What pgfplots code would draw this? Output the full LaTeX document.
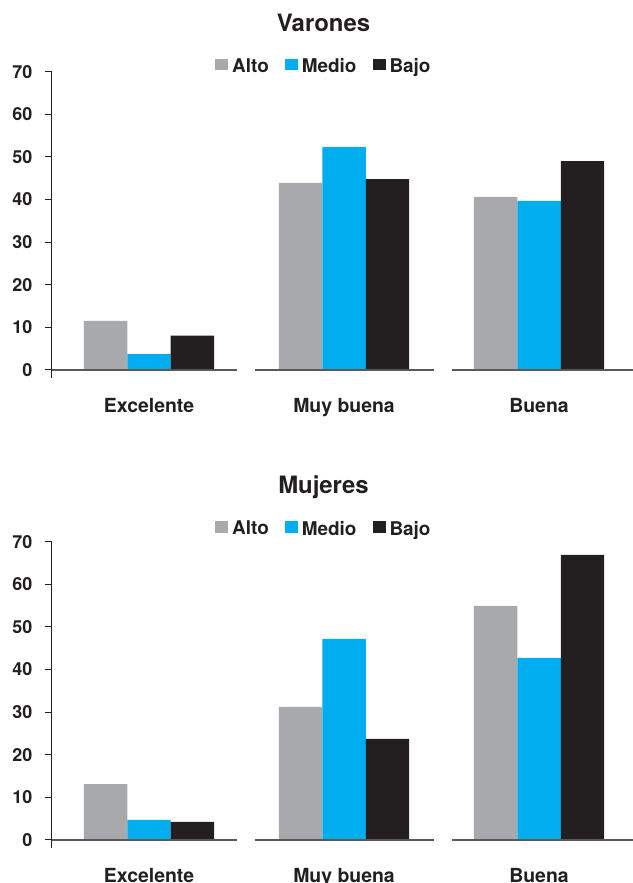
\documentclass[border=0pt]{standalone}
\usepackage{pgfplots}
\pgfplotsset{compat=1.18}
\usepackage{fontspec}
\setmainfont{TeX Gyre Heros}
\definecolor{cAlto}{HTML}{A7A9AC}
\definecolor{cMedio}{HTML}{00AEEF}
\definecolor{cBajo}{HTML}{231F20}
\definecolor{cBase}{HTML}{58595B}

\pgfplotsset{
 mybars/.style={
  scale only axis, width=581.5bp, height=306.3bp,
  xmin=-0.5, xmax=2.482, ymin=-1.88, ymax=70,
  axis lines*=left,
  x axis line style={draw=none},
  y axis line style={draw=cBajo, line width=1bp},
  xtick={0,1,2}, xticklabels={Excelente,Muy buena,Buena},
  major x tick style={draw=none},
  ytick={0,10,...,70},
  tick align=outside, major tick length=7bp,
  major y tick style={draw=cBajo, line width=1bp},
  yticklabel style={font=\bfseries\fontsize{18}{20}\selectfont, anchor=east, inner sep=0pt, xshift=-12bp, text=cBajo},
  xticklabel style={font=\bfseries\fontsize{19.5}{22}\selectfont, anchor=base, inner sep=0pt, yshift=-28bp, text=cBajo},
  /pgf/number format/assume math mode=true,
  bar width=0.223,
  legend columns=3,
  legend cell align=left,
  legend style={draw=none, fill=none, inner sep=0pt, text=cBajo,
    font=\bfseries\fontsize{19}{22}\selectfont,
    nodes={inner sep=0pt},
    column sep=4bp,
    /tikz/every even column/.append style={column sep=16bp}},
  legend image code/.code={\fill[##1] (0bp,-4bp) rectangle (13bp,7.4bp);},
  clip=false,
 },
 bAlto/.style={ybar, fill=cAlto, draw=none, bar shift=-0.223},
 bMedio/.style={ybar, fill=cMedio, draw=none, bar shift=0},
 bBajo/.style={ybar, fill=cBajo, draw=none, bar shift=0.223},
 base/.style={draw=cBase, line width=1.3bp, forget plot, mark=none},
}

\begin{document}
\begin{tikzpicture}
\useasboundingbox (0bp,0bp) rectangle (633bp,883bp);
\clip (0bp,0bp) rectangle (633bp,883bp);

% ---------- Varones ----------
\begin{axis}[mybars, at={(51.5bp,505bp)}, anchor=south west,
  legend style={at={(0.2812,1.045)}, anchor=north west}]
\addplot[bAlto]  coordinates {(0,11.5) (1,43.9) (2,40.6)};
\addplot[bMedio] coordinates {(0,3.75) (1,52.3) (2,39.7)};
\addplot[bBajo]  coordinates {(0,8.05) (1,44.8) (2,49.0)};
\addplot[base] coordinates {(-0.5,0) (0.451,0)};
\addplot[base] coordinates {(0.544,0) (1.462,0)};
\addplot[base] coordinates {(1.554,0) (2.482,0)};
\legend{Alto,Medio,Bajo}
\end{axis}
\node[anchor=base, font=\bfseries\fontsize{24}{28}\selectfont, text=cBajo] at (323.5bp,851.3bp) {Varones};

% ---------- Mujeres ----------
\begin{axis}[mybars, at={(51.5bp,35.1bp)}, anchor=south west,
  legend style={at={(0.2812,1.068)}, anchor=north west}]
\addplot[bAlto]  coordinates {(0,13.1) (1,31.2) (2,54.9)};
\addplot[bMedio] coordinates {(0,4.7) (1,47.2) (2,42.7)};
\addplot[bBajo]  coordinates {(0,4.2) (1,23.7) (2,66.9)};
\addplot[base] coordinates {(-0.5,0) (0.451,0)};
\addplot[base] coordinates {(0.544,0) (1.462,0)};
\addplot[base] coordinates {(1.554,0) (2.482,0)};
\legend{Alto,Medio,Bajo}
\end{axis}
\node[anchor=base, font=\bfseries\fontsize{24}{28}\selectfont, text=cBajo] at (323.5bp,389bp) {Mujeres};
\end{tikzpicture}
\end{document}
